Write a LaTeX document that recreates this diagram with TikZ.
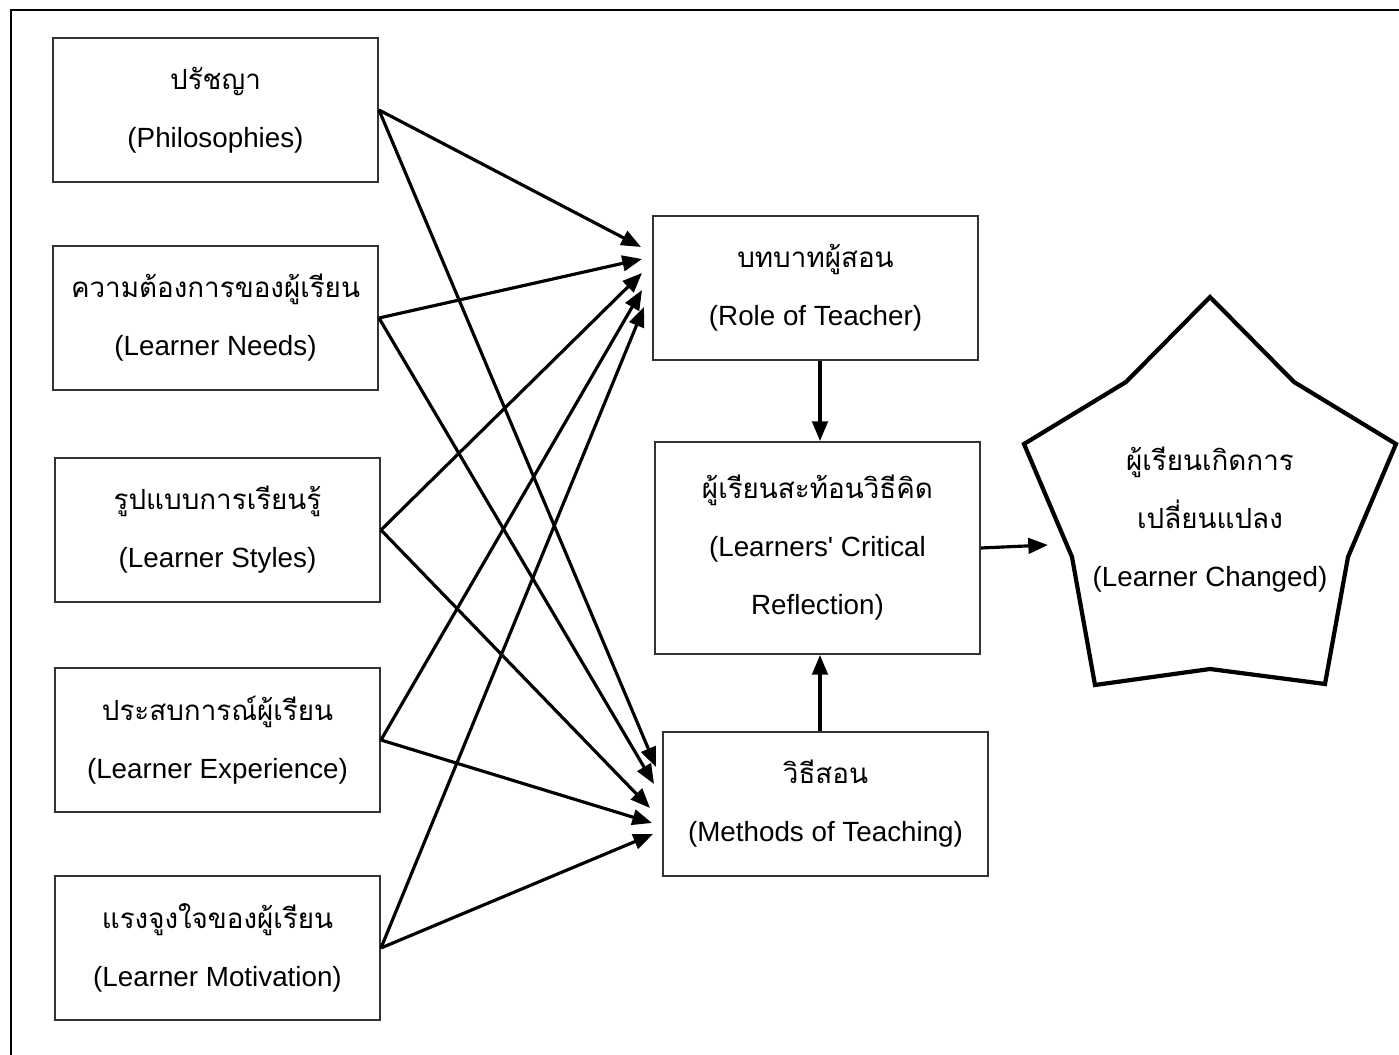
\documentclass[tikz,border=0pt]{standalone}
\usepackage{fontspec}
\setmainfont{Liberation Sans}
\newfontfamily\thaifont[Script=Thai]{Loma}
\usetikzlibrary{shapes, arrows.meta}
\tikzstyle{block} = [rectangle, draw=black!80, line width=0.5pt, minimum width=3.25cm,
    minimum height=1.44cm, align=center, inner sep=0pt, font=\fontsize{7.9}{16.5}\selectfont]
\tikzstyle{line} = [draw, line width=0.9pt, -{Triangle[length=5.6pt,width=4.4pt]}]
\tikzstyle{goal} = [draw, line width=1.2pt, line join=miter]

\begin{document}
\begin{tikzpicture}[x=0.01cm, y=-0.01cm]
        \useasboundingbox (0,0) rectangle (1399,1055);
        \draw [line width=0.8pt] (11,1055) -- (11,10) -- (1399,10);
        % Place nodes
        \node [block] (phil) at (215.5,110) {{\thaifont ปรัชญา}\\(Philosophies)};
        \node [block] (needs) at (215.5,318) {{\thaifont ความต้องการของผู้เรียน}\\(Learner Needs)};
        \node [block] (styles) at (217.5,530) {{\thaifont รูปแบบการเรียนรู้}\\(Learner Styles)};
        \node [block] (exper) at (217.5,740) {{\thaifont ประสบการณ์ผู้เรียน}\\(Learner Experience)};
        \node [block] (motiv) at (217.5,948) {{\thaifont แรงจูงใจของผู้เรียน}\\(Learner Motivation)};
        \node [block] (role) at (815.5,288) {{\thaifont บทบาทผู้สอน}\\(Role of Teacher)};
        \node [block, minimum height=2.12cm] (reflect) at (817.5,548)
            {{\thaifont ผู้เรียนสะท้อนวิธีคิด}\\(Learners\textquotesingle{} Critical\\Reflection)};
        \node [block] (methods) at (825.5,804) {{\thaifont วิธีสอน}\\(Methods of Teaching)};
        % Changed learner
        \path [goal] (1210,297) -- (1126,382) -- (1024,444) -- (1072,557) -- (1095,685)
            -- (1210,669) -- (1325,684) -- (1348,557) -- (1396,444) -- (1294,382) -- cycle;
        \node [align=center, font=\fontsize{7.9}{16.5}\selectfont] (changed) at (1210,520)
            {{\thaifont ผู้เรียนเกิดการ}\\{\thaifont เปลี่ยนแปลง}\\(Learner Changed)};
        \coordinate (chgin) at (1048,545);
        % Draw edges
        \path [line] (phil.east) -- ([shift={(-11,-41)}]role.west);
        \path [line] (needs.east) -- ([shift={(-10,-29)}]role.west);
        \path [line] (styles.east) -- ([shift={(-10,-15)}]role.west);
        \path [line] (exper.east) -- ([shift={(-10,2)}]role.west);
        \path [line] (motiv.east) -- ([shift={(-8,19)}]role.west);
        \path [line] (phil.east) -- ([shift={(-6,-37)}]methods.west);
        \path [line] (needs.east) -- ([shift={(-8,-20)}]methods.west);
        \path [line] (styles.east) -- ([shift={(-12,4)}]methods.west);
        \path [line] (exper.east) -- ([shift={(-10,19)}]methods.west);
        \path [line] (motiv.east) -- ([shift={(-9,30)}]methods.west);
        \path [line] ([xshift=0.025cm]reflect.north |- role.south) -- ([xshift=0.025cm]reflect.north);
        \path [line] ([xshift=0.025cm]reflect.south |- methods.north) -- ([xshift=0.025cm]reflect.south);
        \path [line] (reflect.east) -- (chgin);
\end{tikzpicture}
\end{document}
